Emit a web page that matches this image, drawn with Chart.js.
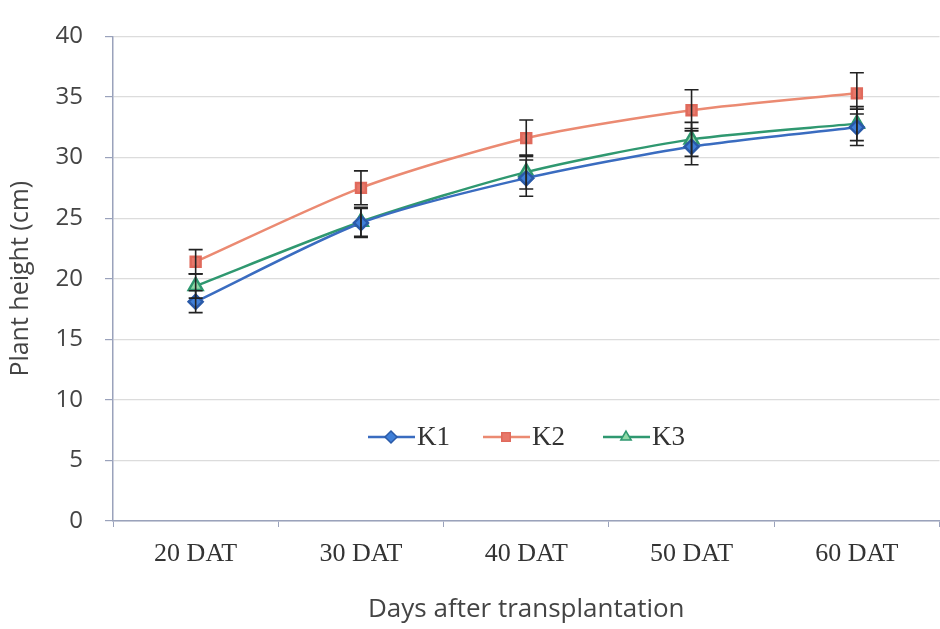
<!DOCTYPE html>
<html lang="en">
<head>
    <meta charset="UTF-8">
    <title>Plant height</title>
    <script src="https://cdn.jsdelivr.net/npm/chart.js@4.4.0/dist/chart.umd.min.js"></script>
    <style>
        html, body { margin: 0; padding: 0; background: #fff; overflow: hidden; }
        #wrap { width: 950px; height: 629px; position: relative; }
    </style>
</head>
<body>
    <div id="wrap"><canvas id="heightChart"></canvas></div>
    <script>
        var days = ['20 DAT', '30 DAT', '40 DAT', '50 DAT', '60 DAT'];
        var k1 = [18.1, 24.6, 28.3, 30.9, 32.5];
        var k2 = [21.4, 27.5, 31.6, 33.9, 35.3];
        var k3 = [19.4, 24.7, 28.8, 31.5, 32.8];
        var k1Err = [0.9, 1.2, 1.5, 1.5, 1.5];
        var k2Err = [1.0, 1.4, 1.5, 1.7, 1.7];
        var k3Err = [1.0, 1.2, 1.4, 1.4, 1.4];
        var yTicks = [0, 5, 10, 15, 20, 25, 30, 35, 40];

        var errs = [k1Err, k2Err, k3Err];
        var sans = '"Open Sans", "DejaVu Sans", sans-serif';
        var serif = '"Liberation Serif", "Times New Roman", serif';

        // error bars drawn through the chart scales
        var errorBars = {
            id: 'errorBars',
            afterDatasetsDraw: function(chart) {
                var ctx = chart.ctx, x = chart.scales.x, y = chart.scales.y;
                ctx.save();
                ctx.strokeStyle = '#222';
                ctx.lineWidth = 1.6;
                chart.data.datasets.forEach(function(ds, i) {
                    ds.data.forEach(function(v, j) {
                        var px = x.getPixelForValue(j);
                        var top = y.getPixelForValue(v + errs[i][j]);
                        var bot = y.getPixelForValue(v - errs[i][j]);
                        ctx.beginPath();
                        ctx.moveTo(px, top); ctx.lineTo(px, bot);
                        ctx.moveTo(px - 7, top); ctx.lineTo(px + 7, top);
                        ctx.moveTo(px - 7, bot); ctx.lineTo(px + 7, bot);
                        ctx.stroke();
                    });
                });
                ctx.restore();
            }
        };

        // legend sitting inside the plot, like the original
        var innerLegend = {
            id: 'innerLegend',
            afterDraw: function(chart) {
                var ctx = chart.ctx;
                var xs = [368, 483, 603];
                var yy = 437;
                ctx.save();
                chart.data.datasets.forEach(function(ds, i) {
                    var x0 = xs[i];
                    ctx.strokeStyle = ds.borderColor;
                    ctx.lineWidth = 2.5;
                    ctx.beginPath();
                    ctx.moveTo(x0, yy); ctx.lineTo(x0 + 47, yy);
                    ctx.stroke();
                    ctx.fillStyle = ds.pointBackgroundColor;
                    ctx.strokeStyle = ds.pointBorderColor;
                    ctx.lineWidth = 1.5;
                    Chart.helpers.drawPoint(ctx, {pointStyle: ds.pointStyle, radius: 6, borderWidth: 1.5}, x0 + 23, yy);
                    ctx.fillStyle = '#333';
                    ctx.font = '27px ' + serif;
                    ctx.textBaseline = 'middle';
                    ctx.fillText(ds.label, x0 + 49, yy + 1);
                });
                ctx.restore();
            }
        };

        var ctx = document.getElementById('heightChart').getContext('2d');
        new Chart(ctx, {
            type: 'line',
            data: {
                labels: days,
                datasets: [
                    {
                        label: 'K1', data: k1,
                        borderColor: '#3a6cc0', borderWidth: 2.5,
                        pointStyle: 'rectRot', pointRadius: 7,
                        pointBackgroundColor: '#3f7fd8', pointBorderColor: '#2a5aa8',
                        tension: 0.25
                    },
                    {
                        label: 'K2', data: k2,
                        borderColor: '#eb8a72', borderWidth: 2.5,
                        pointStyle: 'rect', pointRadius: 7,
                        pointBackgroundColor: '#e8786a', pointBorderColor: '#e06a5c',
                        tension: 0.25
                    },
                    {
                        label: 'K3', data: k3,
                        borderColor: '#2f9870', borderWidth: 2.5,
                        pointStyle: 'triangle', pointRadius: 8,
                        pointBackgroundColor: '#8fd9a6', pointBorderColor: '#2f9870',
                        tension: 0.25
                    }
                ]
            },
            options: {
                responsive: true,
                maintainAspectRatio: false,
                animation: false,
                layout: { padding: { top: 19, right: 0, left: 0, bottom: 0 } },
                plugins: { legend: { display: false }, tooltip: { enabled: false } },
                scales: {
                    x: {
                        offset: true,
                        grid: { display: true, drawOnChartArea: false, offset: true, tickLength: 6, tickColor: '#9aa2bb' },
                        border: { color: '#9aa2bb', width: 1.5 },
                        ticks: {
                            color: '#333', padding: 12,
                            font: { family: serif, size: 26 }
                        },
                        title: {
                            display: true, text: 'Days after transplantation', color: '#444',
                            font: { family: sans, size: 26 },
                            padding: { top: 10, bottom: 4 }
                        },
                        afterFit: function(s) { s.height = 108; }
                    },
                    y: {
                        min: 0, max: 40,
                        afterBuildTicks: function(s) { s.ticks = yTicks.map(function(v) { return { value: v }; }); },
                        grid: { color: '#dcdcdc', lineWidth: 1.2, tickLength: 8, tickColor: '#9aa2bb' },
                        border: { color: '#9aa2bb', width: 1.5 },
                        ticks: {
                            color: '#444', padding: 22,
                            font: { family: sans, size: 24 }
                        },
                        title: {
                            display: true, text: 'Plant height (cm)', color: '#444',
                            font: { family: sans, size: 25 },
                            padding: { top: 6, bottom: 4 }
                        },
                        afterFit: function(s) { s.width = 113; }
                    }
                }
            },
            plugins: [errorBars, innerLegend]
        });
    </script>
</body>
</html>
